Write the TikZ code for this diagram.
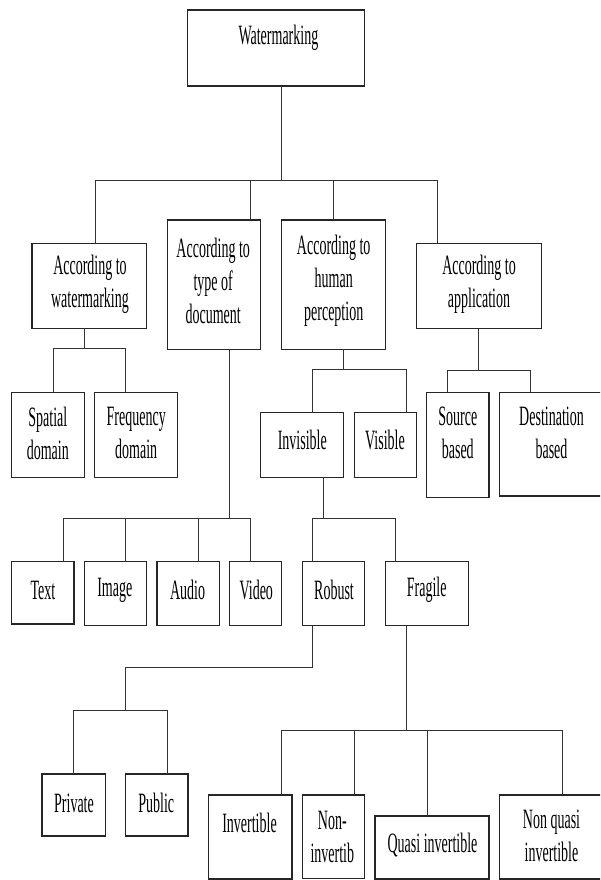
\documentclass[tikz,border=0pt]{standalone}
\usepackage{fontspec}
\setmainfont[FakeStretch=0.5]{Liberation Serif}
\begin{document}
\begin{tikzpicture}[x=1pt,y=-1pt,
  bx/.style={draw=black!85,line width=1.3pt,inner sep=0pt,outer sep=0pt,anchor=north west},
  txt/.style={inner sep=0pt,align=center,font=\fontsize{28}{33}\selectfont},
  conn/.style={draw=black!80,line width=0.9pt}]
\useasboundingbox (0,0) rectangle (600,880);
\clip (0,0) rectangle (600,880);
\fill[white] (0,0) rectangle (600,880);
% boxes: \node[bx,minimum width=w,minimum height=h] (n) at (x1,y1) {};
\node[bx,minimum width=177,minimum height=76] (W) at (187.5,10) {};
\node[bx,minimum width=114.2,minimum height=85] (A1) at (32,243.3) {};
\node[bx,minimum width=93.4,minimum height=129.3] (A2) at (167.2,220) {};
\node[bx,minimum width=104.1,minimum height=129.3] (A3) at (281.3,220) {};
\node[bx,minimum width=125.1,minimum height=85] (A4) at (416.4,243.3) {};
\node[bx,minimum width=72.7,minimum height=85] (Sp) at (11.5,392.3) {};
\node[bx,minimum width=83.1,minimum height=85] (Fr) at (94.5,392.3) {};
\node[bx,minimum width=83.1,minimum height=64.6] (Inv) at (260.6,412.7) {};
\node[bx,minimum width=62,minimum height=64.6] (Vis) at (354.4,412.7) {};
\node[bx,minimum width=62.4,minimum height=105] (Src) at (426.7,392.3) {};
\node[bx,minimum width=130,minimum height=103.7] (Dst) at (499.4,392.3) {};
\node[bx,minimum width=62.4,minimum height=62.3] (Txt) at (11.5,561.7) {};
\node[bx,minimum width=62.4,minimum height=64] (Img) at (84.2,561.7) {};
\node[bx,minimum width=62.4,minimum height=64] (Aud) at (156.9,561.7) {};
\node[bx,minimum width=51.7,minimum height=64] (Vid) at (229.6,561.7) {};
\node[bx,minimum width=62,minimum height=64] (Rob) at (302.3,561.7) {};
\node[bx,minimum width=83,minimum height=64] (Frg) at (385.4,561.7) {};
\node[bx,minimum width=63.1,minimum height=62] (Prv) at (42.1,774) {};
\node[bx,minimum width=62.4,minimum height=62] (Pub) at (125.5,774) {};
\node[bx,minimum width=83.4,minimum height=84] (Ivt) at (208.6,795) {};
\node[bx,minimum width=62,minimum height=83.3] (NIv) at (302.3,795) {};
\node[bx,minimum width=114.1,minimum height=63] (Qsi) at (375,816) {};
\node[bx,minimum width=130,minimum height=84] (NQ) at (499.4,795) {};
% texts
\node[txt] (tW) at (278.4,38) {Watermarking};
\node[txt] (tA1) at (90,284.2) {According to\\watermarking};
\node[txt] (tA2) at (213.2,281.1) {According to\\type of\\document};
\node[txt] (tA3) at (333.7,281.1) {According to\\human\\perception};
\node[txt] (tA4) at (479,284.2) {According to\\application};
\node[txt] (tSp) at (47.8,433) {Spatial\\domain};
\node[txt] (tFr) at (136.2,433) {Frequency\\domain};
\node[txt] (tInv) at (302.3,440) {Invisible};
\node[txt] (tVis) at (385,440) {Visible};
\node[txt] (tSrc) at (457.8,433.3) {Source\\based};
\node[txt] (tDst) at (551.5,433.3) {Destination\\based};
\node[txt] (tTxt) at (43,590) {Text};
\node[txt] (tImg) at (114.8,590) {Image};
\node[txt] (tAud) at (187.5,590) {Audio};
\node[txt] (tVid) at (256.3,590) {Video};
\node[txt] (tRob) at (334,590) {Robust};
\node[txt] (tFrg) at (426.7,590) {Fragile};
\node[txt] (tPrv) at (74,803.3) {Private};
\node[txt] (tPub) at (156.3,803.3) {Public};
\node[txt] (tIvt) at (249.5,823.3) {Invertible};
\node[txt] (tNIv) at (332.3,836.7) {Non-\\invertib};
\node[txt] (tQsi) at (432.5,845) {Quasi invertible};
\node[txt] (tNQ) at (551.5,836) {Non quasi\\invertible};
% junction coordinates
\coordinate (j0) at (281.3,180);
\coordinate (k1) at (95,180);
\coordinate (k2) at (250.7,180);
\coordinate (k3) at (333.3,180);
\coordinate (k4) at (437.4,180);
\coordinate (j1) at (84.2,348.3);
\coordinate (m1) at (53.2,348.3);
\coordinate (m2) at (125.9,348.3);
\coordinate (j2) at (229.6,518.3);
\coordinate (d1) at (63.1,518.3);
\coordinate (d2) at (125.9,518.3);
\coordinate (d3) at (198.2,518.3);
\coordinate (d4) at (250.7,518.3);
\coordinate (j3) at (343.7,369);
\coordinate (p1) at (312.7,369);
\coordinate (p2) at (406,369);
\coordinate (j4) at (478.4,370);
\coordinate (q1) at (447.8,370);
\coordinate (q2) at (530.8,370);
\coordinate (j5) at (323.4,518.3);
\coordinate (r1) at (312.7,518.3);
\coordinate (r2) at (395.7,518.3);
\coordinate (s0) at (312.7,667.7);
\coordinate (s1) at (125.9,667.7);
\coordinate (s2) at (125.9,710);
\coordinate (t1) at (73.5,710);
\coordinate (t2) at (167.2,710);
\coordinate (u0) at (406.4,730.7);
\coordinate (v1) at (281.3,730.7);
\coordinate (v2) at (354.4,730.7);
\coordinate (v3) at (427.1,730.7);
\coordinate (v4) at (562.2,730.7);
% connectors
\draw[conn] (W.south -| j0) -- (j0);
\draw[conn] (A1.north -| k1) -- (k1) -- (k4) -- (A4.north -| k4);
\draw[conn] (k2) -- (A2.north -| k2);
\draw[conn] (k3) -- (A3.north -| k3);
\draw[conn] (A1.south -| j1) -- (j1);
\draw[conn] (Sp.north -| m1) -- (m1) -- (m2) -- (Fr.north -| m2);
\draw[conn] (A2.south -| j2) -- (j2);
\draw[conn] (Txt.north -| d1) -- (d1) -- (d4) -- (Vid.north -| d4);
\draw[conn] (d2) -- (Img.north -| d2);
\draw[conn] (d3) -- (Aud.north -| d3);
\draw[conn] (A3.south -| j3) -- (j3);
\draw[conn] (Inv.north -| p1) -- (p1) -- (p2) -- (Vis.north -| p2);
\draw[conn] (A4.south -| j4) -- (j4);
\draw[conn] (Src.north -| q1) -- (q1) -- (q2) -- (Dst.north -| q2);
\draw[conn] (Inv.south -| j5) -- (j5);
\draw[conn] (Rob.north -| r1) -- (r1) -- (r2) -- (Frg.north -| r2);
\draw[conn] (Rob.south -| s0) -- (s0) -- (s1) -- (s2);
\draw[conn] (Prv.north -| t1) -- (t1) -- (t2) -- (Pub.north -| t2);
\draw[conn] (Frg.south -| u0) -- (u0);
\draw[conn] (Ivt.north -| v1) -- (v1) -- (v4) -- (NQ.north -| v4);
\draw[conn] (v2) -- (NIv.north -| v2);
\draw[conn] (v3) -- (Qsi.north -| v3);
\end{tikzpicture}
\end{document}
